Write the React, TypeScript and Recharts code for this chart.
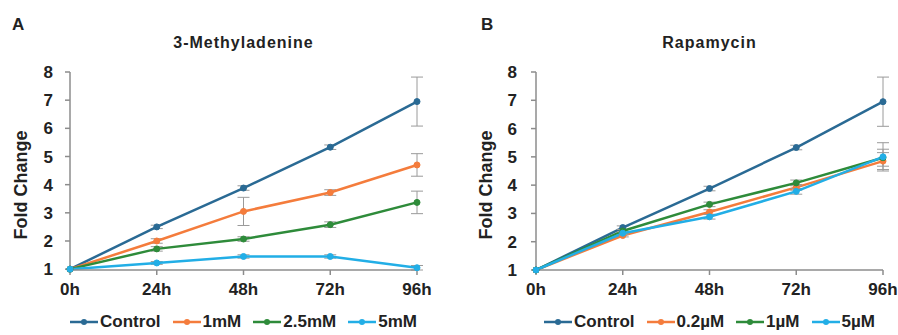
import React from 'react';
import { LineChart, Line, XAxis, YAxis, ErrorBar, Legend } from 'recharts';

const times = ['0h', '24h', '48h', '72h', '96h'];
const yTicks = [1, 2, 3, 4, 5, 6, 7, 8];

// panel A: 3-Methyladenine
const aNames = ['Control', '1mM', '2.5mM', '5mM'];
const aControl = [1, 2.5, 3.88, 5.33, 6.95];
const aControlErr = [0, 0.06, 0.08, 0.08, 0.87];
const a1mM = [1, 2.0, 3.05, 3.72, 4.7];
const a1mMErr = [0, 0.08, 0.5, 0.1, 0.4];
const a25mM = [1, 1.72, 2.07, 2.58, 3.37];
const a25mMErr = [0, 0.08, 0.08, 0.1, 0.4];
const a5mM = [1, 1.22, 1.45, 1.45, 1.05];
const a5mMErr = [0, 0.05, 0.06, 0.06, 0.08];

// panel B: Rapamycin
const bNames = ['Control', '0.2\u00b5M', '1\u00b5M', '5\u00b5M'];
const bControl = [1, 2.5, 3.88, 5.33, 6.95];
const bControlErr = [0, 0.06, 0.08, 0.08, 0.87];
const b02uM = [1, 2.22, 3.05, 3.92, 4.85];
const b02uMErr = [0, 0.05, 0.08, 0.1, 0.3];
const b1uM = [1, 2.38, 3.32, 4.08, 4.97];
const b1uMErr = [0, 0.05, 0.08, 0.1, 0.3];
const b5uM = [1, 2.3, 2.88, 3.78, 5.0];
const b5uMErr = [0, 0.05, 0.08, 0.1, 0.5];

const colors = ['#2a6a94', '#f47c3c', '#2e8b3a', '#22aee6'];
const font = '"Liberation Sans", Arial, sans-serif';
const textColor = '#222';
const axisColor = '#8c8c8c';

const buildRows = (vals: number[][], errs: number[][]) =>
  times.map((t, i) => {
    const row: Record<string, number | string> = { t };
    vals.forEach((v, k) => {
      row[`s${k}`] = v[i];
      row[`e${k}`] = errs[k][i];
    });
    return row;
  });

const LegendContent = ({ payload, names }: any) => {
  const items = [...(payload || [])].sort((a: any, b: any) => names.indexOf(a.value) - names.indexOf(b.value));
  return (
    <div style={{ display: 'flex', justifyContent: 'center', alignItems: 'center', fontFamily: font, fontWeight: 700, fontSize: 17, color: textColor }}>
      {items.map((p: any) => (
        <div key={p.value} style={{ display: 'flex', alignItems: 'center', margin: '0 6px' }}>
          <svg width={28} height={10} style={{ marginRight: 2 }}>
            <line x1={0} y1={5} x2={28} y2={5} stroke={p.color} strokeWidth={2.5} />
            <circle cx={14} cy={5} r={3} fill={p.color} />
          </svg>
          <span>{p.value}</span>
        </div>
      ))}
    </div>
  );
};

interface PanelProps {
  letter: string;
  title: string;
  names: string[];
  vals: number[][];
  errs: number[][];
  axisWidth: number;
  rightMargin: number;
  tickGap: number;
  labelOffset: number;
  letterLeft: number;
}

const Panel: React.FC<PanelProps> = ({ letter, title, names, vals, errs, axisWidth, rightMargin, tickGap, labelOffset, letterLeft }) => {
  const data = buildRows(vals, errs);
  const width = 449;
  const plotCenter = axisWidth + (width - axisWidth - rightMargin) / 2;
  return (
    <div style={{ position: 'relative', width, height: 335 }}>
      <div style={{ position: 'absolute', left: letterLeft, top: 15, fontFamily: font, fontWeight: 700, fontSize: 17, color: textColor }}>
        {letter}
      </div>
      <div style={{ position: 'absolute', left: plotCenter - 150, width: 300, top: 34, textAlign: 'center', fontFamily: font, fontWeight: 700, fontSize: 16, letterSpacing: 1, color: textColor }}>
        {title}
      </div>
      <LineChart width={width} height={335} data={data} margin={{ top: 72, right: rightMargin, left: 0, bottom: 0 }}>
        <XAxis
          dataKey="t"
          stroke={axisColor}
          strokeWidth={1.5}
          tickSize={5}
          tickMargin={8}
          height={35}
          tick={{ fill: textColor, fontSize: 17, fontWeight: 700, fontFamily: font }}
        />
        <YAxis
          domain={[1, 8]}
          ticks={yTicks}
          interval={0}
          width={axisWidth}
          stroke={axisColor}
          strokeWidth={1.5}
          tickSize={5}
          tickMargin={tickGap}
          tick={{ fill: textColor, fontSize: 17, fontWeight: 700, fontFamily: font }}
          label={({ viewBox }: any) => {
            const x = viewBox.x + labelOffset;
            const y = viewBox.y + viewBox.height / 2 + 14;
            return (
              <text
                x={x}
                y={y}
                transform={`rotate(-90, ${x}, ${y})`}
                textAnchor="middle"
                dominantBaseline="central"
                fill={textColor}
                fontSize={18}
                fontWeight={700}
                fontFamily={font}
              >
                Fold Change
              </text>
            );
          }}
        />
        <Legend
          verticalAlign="bottom"
          height={30}
          content={<LegendContent names={names} />}
          wrapperStyle={{ top: 312, bottom: 'auto', left: axisWidth - 45, width: width - axisWidth - rightMargin + 90 }}
        />
        {names.map((n, k) => (
          <Line
            key={n}
            name={n}
            dataKey={`s${k}`}
            stroke={colors[k]}
            strokeWidth={2.5}
            dot={{ r: 3, fill: colors[k], stroke: colors[k], strokeWidth: 1 }}
            isAnimationActive={false}
          >
            <ErrorBar dataKey={`e${k}`} width={6} stroke="#9a9a9a" strokeWidth={1} direction="y" />
          </Line>
        ))}
      </LineChart>
    </div>
  );
};

export default function App() {
  return (
    <div style={{ position: 'absolute', left: 0, top: 0, width: 898, height: 335, display: 'flex', background: '#fff' }}>
      <Panel
        letter="A"
        title="3-Methyladenine"
        names={aNames}
        vals={[aControl, a1mM, a25mM, a5mM]}
        errs={[aControlErr, a1mMErr, a25mMErr, a5mMErr]}
        axisWidth={70}
        rightMargin={32}
        tickGap={12}
        labelOffset={21}
        letterLeft={12}
      />
      <Panel
        letter="B"
        title="Rapamycin"
        names={bNames}
        vals={[bControl, b02uM, b1uM, b5uM]}
        errs={[bControlErr, b02uMErr, b1uMErr, b5uMErr]}
        axisWidth={87}
        rightMargin={15}
        tickGap={14}
        labelOffset={37}
        letterLeft={32}
      />
    </div>
  );
}
